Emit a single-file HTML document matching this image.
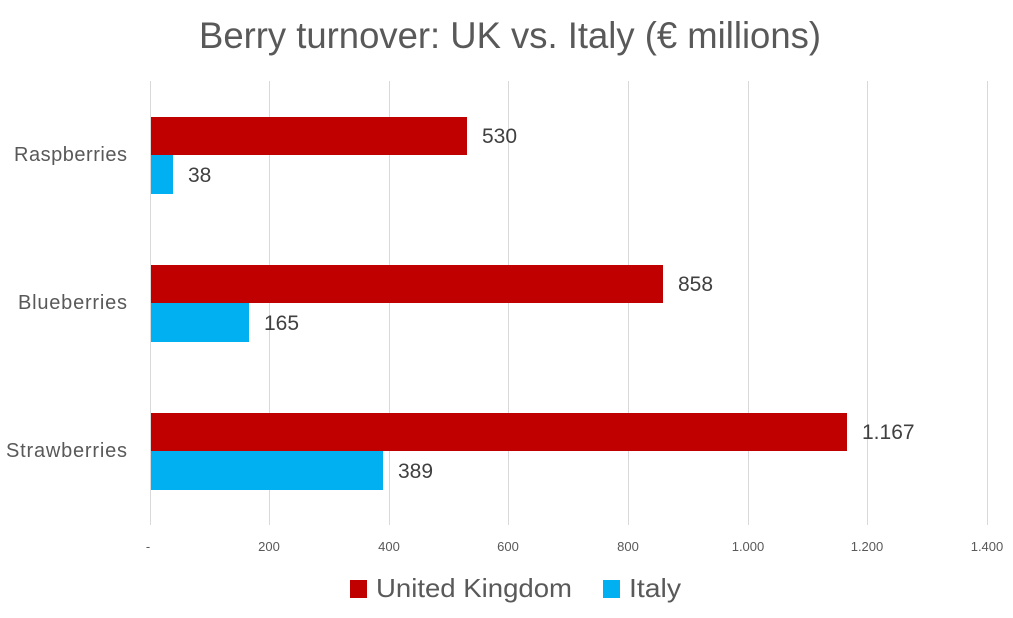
<!DOCTYPE html>
<html><head><meta charset="utf-8"><style>
body{margin:0;background:#fff;}
svg{display:block;font-family:"Liberation Sans",sans-serif;}
</style></head><body>
<svg width="1013" height="618" xmlns="http://www.w3.org/2000/svg">
<text x="510" y="48" text-anchor="middle" font-size="37" fill="#595959" textLength="622" lengthAdjust="spacingAndGlyphs">Berry turnover: UK vs. Italy (€ millions)</text>
<g stroke="#d9d9d9" stroke-width="1">
<line x1="150.5" y1="81" x2="150.5" y2="525"/>
<line x1="269.5" y1="81" x2="269.5" y2="525"/>
<line x1="389.5" y1="81" x2="389.5" y2="525"/>
<line x1="508.5" y1="81" x2="508.5" y2="525"/>
<line x1="628.5" y1="81" x2="628.5" y2="525"/>
<line x1="748.5" y1="81" x2="748.5" y2="525"/>
<line x1="867.5" y1="81" x2="867.5" y2="525"/>
<line x1="987.5" y1="81" x2="987.5" y2="525"/>
</g>
<g fill="#c00000">
<rect x="151" y="117" width="316" height="38"/>
<rect x="151" y="265" width="512" height="38"/>
<rect x="151" y="413" width="696" height="38"/>
</g>
<g fill="#00b0f0">
<rect x="151" y="155" width="22" height="39"/>
<rect x="151" y="303" width="98" height="39"/>
<rect x="151" y="451" width="232" height="39"/>
</g>
<g font-size="21" fill="#404040">
<text x="482" y="143">530</text>
<text x="188" y="182">38</text>
<text x="678" y="291">858</text>
<text x="264" y="330">165</text>
<text x="862" y="439">1.167</text>
<text x="398" y="478">389</text>
</g>
<g font-size="20" fill="#595959" lengthAdjust="spacingAndGlyphs">
<text x="14" y="161" textLength="113">Raspberries</text>
<text x="18" y="309" textLength="109">Blueberries</text>
<text x="6" y="457" textLength="121">Strawberries</text>
</g>
<g font-size="13" fill="#595959" text-anchor="middle">
<text x="148" y="551">-</text>
<text x="269" y="551">200</text>
<text x="389" y="551">400</text>
<text x="508" y="551">600</text>
<text x="628" y="551">800</text>
<text x="748" y="551">1.000</text>
<text x="867" y="551">1.200</text>
<text x="987" y="551">1.400</text>
</g>
<rect x="350" y="580" width="17" height="18" fill="#c00000"/>
<text x="376" y="597" font-size="26" fill="#595959" textLength="196" lengthAdjust="spacingAndGlyphs">United Kingdom</text>
<rect x="603" y="580" width="17" height="18" fill="#00b0f0"/>
<text x="629" y="597" font-size="26" fill="#595959" textLength="52" lengthAdjust="spacingAndGlyphs">Italy</text>
</svg>
</body></html>
